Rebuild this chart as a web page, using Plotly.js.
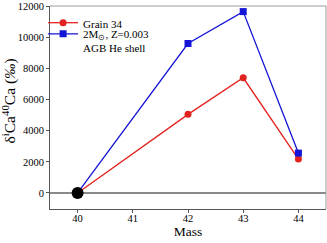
<!DOCTYPE html>
<html><head><meta charset="utf-8">
<script src="https://cdn.plot.ly/plotly-3.0.1.min.js"></script>
<style>html,body{margin:0;padding:0;background:#fff}#c{width:327px;height:243px}</style>
</head><body><div id="c"></div>
<script>
const mass = [40, 42, 43, 44];
const grain34 = [0, 5050, 7400, 2180];
const agbModel = [0, 9600, 11650, 2560];
const refX = [40];
const refY = [0];
const xTicks = [40, 41, 42, 43, 44];
const yTicks = [0, 2000, 4000, 6000, 8000, 10000, 12000];

const FAM = '"Liberation Serif", "Times New Roman", serif';
const tickFont = {family: FAM, size: 10.5, color: '#000'};
const data = [
  {x: mass, y: grain34, mode: 'lines+markers', name: 'Grain 34', legend: 'legend',
   line: {color: '#e3221f', width: 1.3}, marker: {color: '#e3221f', size: 7, symbol: 'circle'}},
  {x: mass, y: agbModel, mode: 'lines+markers', name: '2M<sub>⊙</sub>, Z=0.003<br>AGB He shell', legend: 'legend2',
   line: {color: '#1414d6', width: 1.3}, marker: {color: '#1414d6', size: 7, symbol: 'square'}},
  {x: refX, y: refY, mode: 'markers', showlegend: false,
   marker: {color: '#000', size: 12, symbol: 'circle'}}
];
const legBase = {xanchor: 'left', yanchor: 'top', bgcolor: 'rgba(0,0,0,0)', borderwidth: 0,
                 font: {family: FAM, size: 11, color: '#000'}, itemwidth: 30, valign: 'top'};
const layout = {
  width: 327, height: 243,
  margin: {l: 50, r: 1, t: 6, b: 34},
  paper_bgcolor: '#fff', plot_bgcolor: '#fff',
  font: {family: FAM, size: 11, color: '#000'},
  showlegend: true,
  legend: Object.assign({}, legBase, {x: -0.025, y: 0.985}),
  legend2: Object.assign({}, legBase, {x: -0.025, y: 0.93}),
  xaxis: {range: [39.5, 44.5], tickvals: xTicks, ticktext: xTicks.map(String), tickfont: tickFont,
          showgrid: false, zeroline: false, showline: true, linecolor: '#555', linewidth: 1,
          ticks: 'outside', ticklen: 3, tickcolor: '#555', mirror: false, ticklabelstandoff: -4,
          title: {text: 'Mass', font: {family: FAM, size: 13.5, color: '#000'}, standoff: 3}},
  yaxis: {range: [-1030, 12010], tickvals: yTicks, ticktext: yTicks.map(String), tickfont: tickFont,
          showgrid: false, zeroline: true, zerolinecolor: '#8a8a8a', zerolinewidth: 1.5,
          showline: true, linecolor: '#555', linewidth: 1,
          ticks: 'outside', ticklen: 3, tickcolor: '#555'},
  annotations: [
    {text: 'δ<sup>i</sup>Ca<sup>40</sup>Ca (<i>‰</i>)', xref: 'paper', yref: 'paper',
     x: -0.148, y: 0.53, xanchor: 'center', yanchor: 'middle', textangle: -90, showarrow: false,
     font: {family: FAM, size: 15.5, color: '#000'}}
  ],
  shapes: [
    {type: 'line', xref: 'paper', yref: 'paper', x0: 0, x1: 1, y0: 1, y1: 1, line: {color: '#9a9a9a', width: 1}},
    {type: 'line', xref: 'paper', yref: 'paper', x0: 1, x1: 1, y0: 0, y1: 1, line: {color: '#9a9a9a', width: 1}}
  ]
};
Plotly.newPlot('c', data, layout, {displayModeBar: false, staticPlot: true});
</script></body></html>
